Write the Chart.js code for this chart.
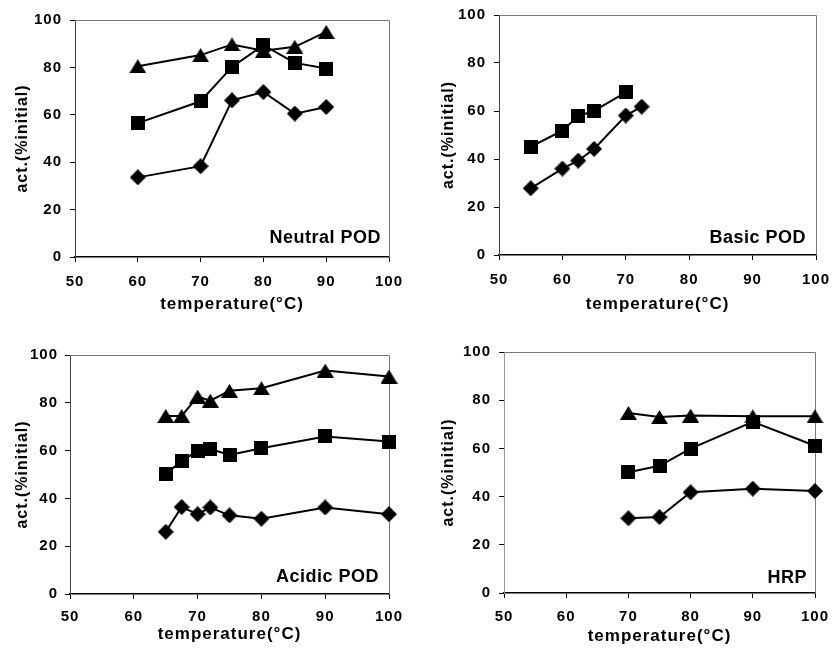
<!DOCTYPE html>
<html><head><meta charset="utf-8">
<script src="https://cdn.jsdelivr.net/npm/chart.js@4"></script>
<style>
html,body{margin:0;padding:0;background:#fff;}
#wrap{position:relative;width:834px;height:650px;overflow:hidden;background:#fff;}
.p{position:absolute;width:417px;height:325px;}
</style></head><body>
<div id="wrap">
<div class="p" style="left:0;top:0"><canvas id="c1"></canvas></div>
<div class="p" style="left:417px;top:0"><canvas id="c2"></canvas></div>
<div class="p" style="left:0;top:325px"><canvas id="c3"></canvas></div>
<div class="p" style="left:417px;top:325px"><canvas id="c4"></canvas></div>
</div>
<script>
// ---- data ----
const xTicks = [50, 60, 70, 80, 90, 100];
const yTicks = [0, 20, 40, 60, 80, 100];

const neutralT   = [60, 70, 75, 80, 85, 90];
const neutralTri = [80.5, 85.2, 89.7, 87, 88.7, 95];
const neutralSq  = [56.5, 65.7, 80.2, 89.4, 81.9, 79.5];
const neutralDia = [33.6, 38.3, 66.1, 69.6, 60.5, 63.3];

const basicSqT  = [55, 60, 62.5, 65, 70];
const basicSq   = [45.1, 51.8, 57.9, 60.1, 67.8];
const basicDiaT = [55, 60, 62.5, 65, 70, 72.5];
const basicDia  = [27.8, 36, 39.3, 44.2, 58.1, 61.8];

const acidicT   = [65, 67.5, 70, 72, 75, 80, 90, 100];
const acidicTri = [74.5, 74.5, 82.6, 80.9, 85, 86.1, 93.5, 91];
const acidicSq  = [50.1, 55.7, 59.9, 60.7, 58.2, 61, 65.9, 63.8];
const acidicDia = [26, 36.4, 33.4, 36.2, 32.9, 31.5, 36.2, 33.4];

const hrpT   = [70, 75, 80, 90, 100];
const hrpTri = [74.7, 73, 73.6, 73.3, 73.3];
const hrpSq  = [50.1, 52.8, 59.9, 71, 61.1];
const hrpDia = [31, 31.5, 41.8, 43.3, 42.3];

const xTitle = 'temperature(°C)';
const yTitle = 'act.(%initial)';

// ---- styling ----
const FAM = '"Liberation Sans", Arial, Helvetica, sans-serif';
const tickFont = {family: FAM, size: 15, weight: 'bold', lineHeight: 1.2};
const xTitleFont = {family: FAM, size: 17, weight: 'bold', lineHeight: 1.2};
const yTitleFont = {family: FAM, size: 16, weight: 'bold', lineHeight: 1.2};

function mk(w, h, draw) {
  const c = document.createElement('canvas');
  c.width = w; c.height = h;
  const g = c.getContext('2d');
  g.fillStyle = '#000';
  g.beginPath(); draw(g, w, h); g.fill();
  return c;
}
const SQ = mk(14, 14, (g, w, h) => g.rect(0, 0, w, h));
const DI = mk(16, 16, (g, w, h) => { g.moveTo(w/2, 0); g.lineTo(w, h/2); g.lineTo(w/2, h); g.lineTo(0, h/2); g.closePath(); });
const TR = mk(17, 14, (g, w, h) => { g.moveTo(w/2, 0); g.lineTo(w, h); g.lineTo(0, h); g.closePath(); });

function ds(xs, ys, img) {
  return {
    data: xs.map((x, i) => ({x: x, y: ys[i]})),
    borderColor: '#000', backgroundColor: '#000', borderWidth: 2,
    pointStyle: img, pointRadius: 7, pointHoverRadius: 7,
    tension: 0, clip: false
  };
}

const framePlugin = {
  id: 'frame',
  beforeUpdate(chart) { chart.ctx.letterSpacing = '1px'; },
  beforeDraw(chart) { chart.ctx.letterSpacing = '1px'; },
  beforeDatasetsDraw(chart) {
    const {ctx, chartArea: a} = chart;
    ctx.save();
    ctx.strokeStyle = '#777'; ctx.lineWidth = 1;
    ctx.beginPath();
    ctx.moveTo(a.left, Math.round(a.top) + 0.5);
    ctx.lineTo(Math.round(a.right) + 0.5, Math.round(a.top) + 0.5);
    ctx.lineTo(Math.round(a.right) + 0.5, a.bottom);
    ctx.stroke();
    ctx.restore();
  },
  afterDraw(chart, args, o) {
    const {ctx, chartArea: a} = chart;
    ctx.save();
    ctx.letterSpacing = '0.5px';
    ctx.font = 'bold 18px ' + FAM;
    ctx.fillStyle = '#000';
    ctx.textAlign = 'right';
    ctx.textBaseline = 'middle';
    ctx.fillText(o.label, a.right - o.dx, a.bottom - o.dy);
    ctx.restore();
  }
};

function make(id, datasets, p) {
  return new Chart(document.getElementById(id), {
    type: 'line',
    data: {datasets: datasets},
    plugins: [framePlugin],
    options: {
      responsive: true, maintainAspectRatio: false, animation: false, events: [],
      layout: {padding: {top: p.top, right: p.right, left: 0, bottom: 0}},
      plugins: {legend: {display: false}, tooltip: {enabled: false},
        frame: {label: p.label, dx: p.dx, dy: p.dy}},
      scales: {
        x: {
          type: 'linear', min: 50, max: 100,
          afterBuildTicks: s => { s.ticks = xTicks.map(v => ({value: v})); },
          afterFit: s => { s.height = p.xh; s.paddingLeft = 0; s.paddingRight = 0; },
          grid: {display: true, drawOnChartArea: false, drawTicks: true, tickLength: 5, color: '#000', lineWidth: 1},
          border: {display: true, color: '#000', width: 1.5},
          ticks: {padding: p.xtp, font: tickFont, color: '#000', maxRotation: 0, autoSkip: false},
          title: {display: true, text: xTitle, font: xTitleFont, color: '#000', padding: {top: 0, bottom: p.xtb}}
        },
        y: {
          type: 'linear', min: 0, max: 100,
          afterBuildTicks: s => { s.ticks = yTicks.map(v => ({value: v})); },
          afterFit: s => { s.width = p.yw; s.paddingTop = 0; s.paddingBottom = 0; },
          grid: {display: true, drawOnChartArea: false, drawTicks: true, tickLength: 5, color: '#000', lineWidth: 1},
          border: {display: true, color: p.yb, width: 1},
          ticks: {padding: p.ytk, font: tickFont, color: '#000'},
          title: {display: true, text: yTitle, font: yTitleFont, color: '#000', padding: {top: p.ytp, bottom: 0}}
        }
      }
    }
  });
}

make('c1', [ds(neutralT, neutralTri, TR), ds(neutralT, neutralSq, SQ), ds(neutralT, neutralDia, DI)],
  {top: 20, right: 28, yw: 75, xh: 68, xtp: 11, xtb: 10, ytp: 13.4, ytk: 8, yb: '#444', label: 'Neutral POD', dx: 8, dy: 19});
make('c2', [ds(basicSqT, basicSq, SQ), ds(basicDiaT, basicDia, DI)],
  {top: 15, right: 18, yw: 82, xh: 70, xtp: 11, xtb: 10, ytp: 22.4, ytk: 8, yb: '#444', label: 'Basic POD', dx: 10, dy: 17});
make('c3', [ds(acidicT, acidicTri, TR), ds(acidicT, acidicSq, SQ), ds(acidicT, acidicDia, DI)],
  {top: 30, right: 28, yw: 70, xh: 56, xtp: 9, xtb: 5, ytp: 13.4, ytk: 7, yb: '#444', label: 'Acidic POD', dx: 10, dy: 17});
make('c4', [ds(hrpT, hrpTri, TR), ds(hrpT, hrpSq, SQ), ds(hrpT, hrpDia, DI)],
  {top: 27, right: 19, yw: 87, xh: 57, xtp: 10, xtb: 3, ytp: 22.4, ytk: 8, yb: '#999', label: 'HRP', dx: 8, dy: 15});
</script>
</body></html>
